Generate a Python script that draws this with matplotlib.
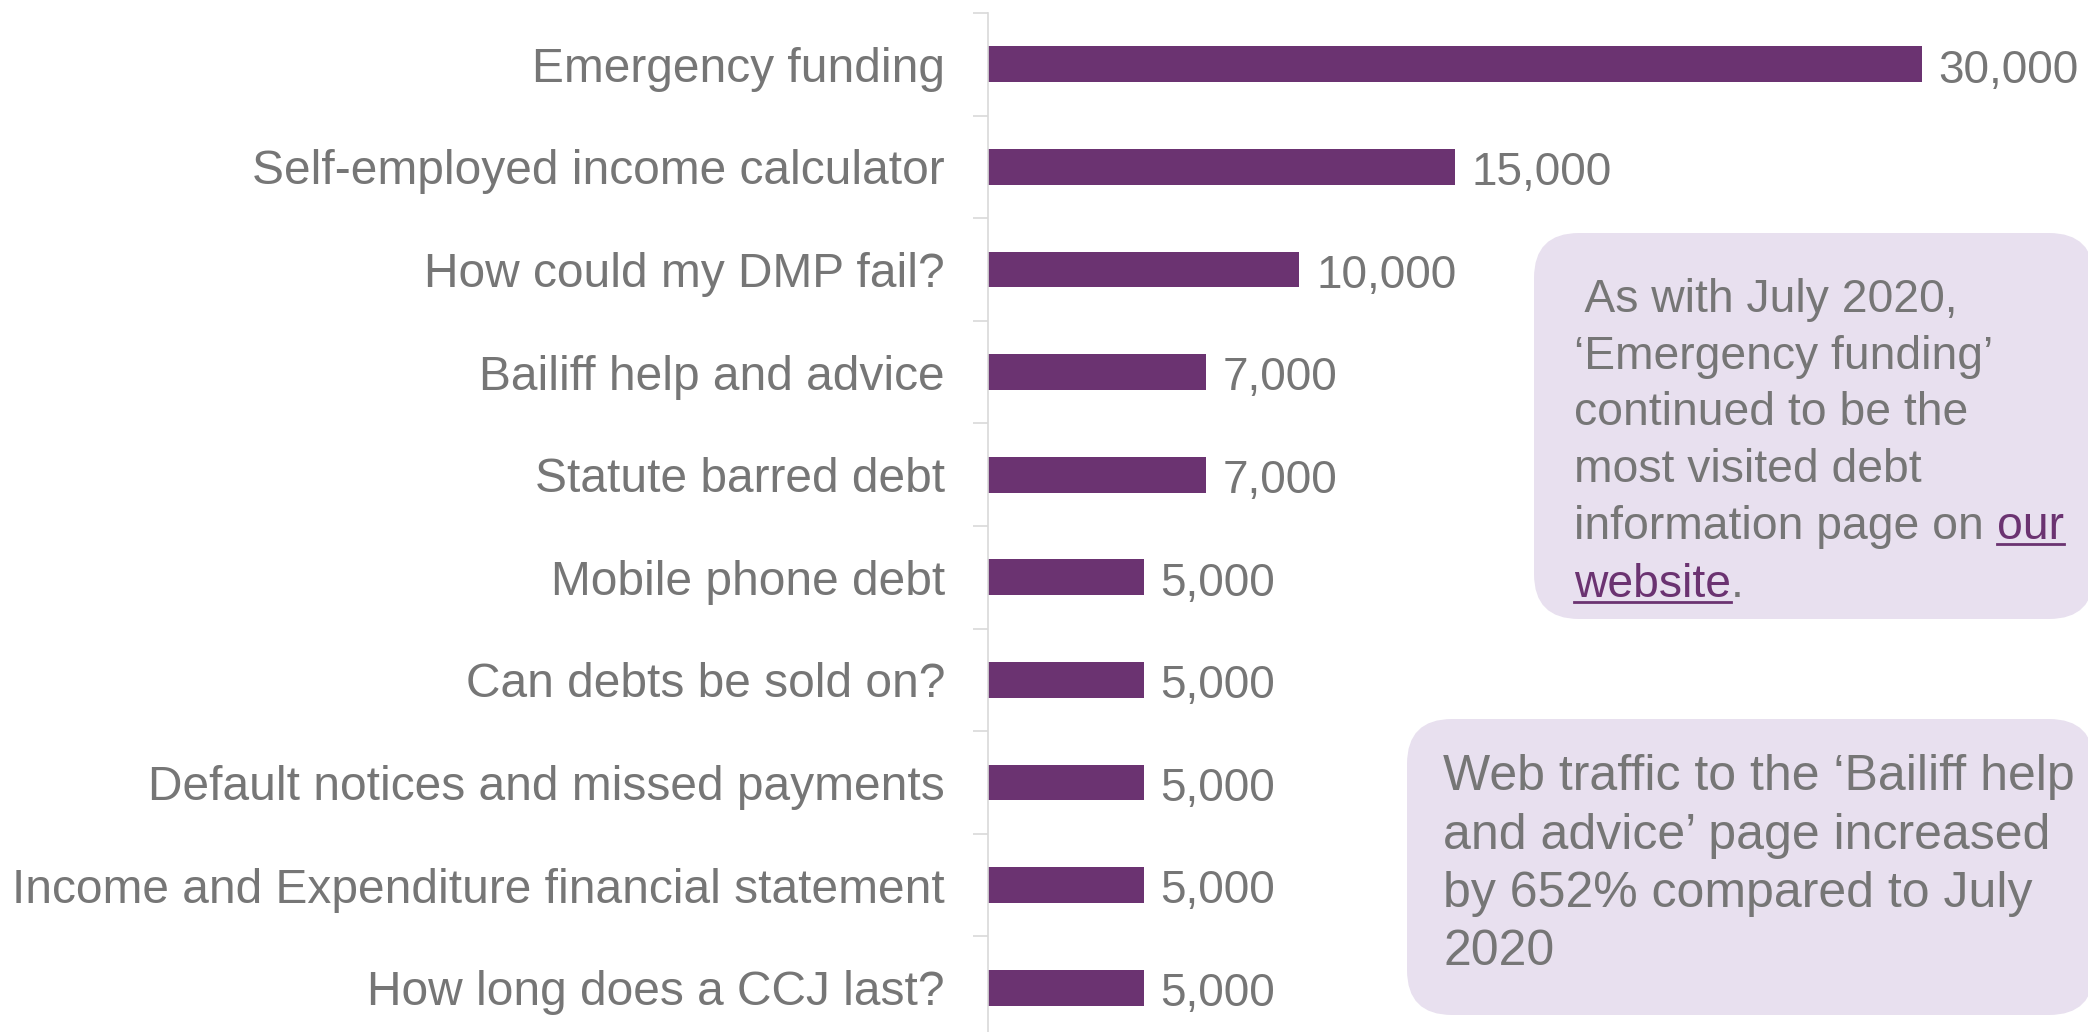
import matplotlib
matplotlib.use("Agg")
import matplotlib.pyplot as plt
from matplotlib.patches import FancyBboxPatch
import numpy as np

plt.rcParams['font.family'] = ['Liberation Sans', 'DejaVu Sans']

# data
pages = ["Emergency funding",
         "Self-employed income calculator",
         "How could my DMP fail?",
         "Bailiff help and advice",
         "Statute barred debt",
         "Mobile phone debt",
         "Can debts be sold on?",
         "Default notices and missed payments",
         "Income and Expenditure financial statement",
         "How long does a CCJ last?"]
visits = [30000, 15000, 10000, 7000, 7000, 5000, 5000, 5000, 5000, 5000]

note1 = [" As with July 2020,",
         "\u2018Emergency funding\u2019",
         "continued to be the",
         "most visited debt"]
note1_tail = ("information page on", "our", "website", ".")
note2 = ["Web traffic to the \u2018Bailiff help",
         "and advice\u2019 page increased",
         "by 652% compared to July",
         "2020"]

bar_col = "#6B3371"
txt_col = "#767676"
grid_col = "#D9D9D9"
box_col = "#E8E0EF"

W, H = 2088, 1032
fig = plt.figure(figsize=(W/100, H/100), dpi=100)

# main bar chart, scaled so the axis sits where the original one does
ax = fig.add_axes([988/W, (H-1039)/H, 1100/W, 1026/H])
y = np.arange(len(pages))
ax.barh(y, visits, height=0.35, color=bar_col)
ax.set_ylim(len(pages)-0.5, -0.5)
ax.set_xlim(0, 35330)
ax.set_yticks(y)
ax.set_yticklabels(pages, fontsize=34.5, color=txt_col)
ax.set_yticks(np.arange(len(pages)+1)-0.5, minor=True)
ax.tick_params(axis='y', which='major', length=0, pad=31)
ax.tick_params(axis='y', which='minor', length=11, width=1.2, color=grid_col)
ax.xaxis.set_visible(False)
for s in ["top", "right", "bottom"]:
    ax.spines[s].set_visible(False)
ax.spines["left"].set_color(grid_col)
ax.spines["left"].set_linewidth(1.2)
ax.set_facecolor("none")

for yi, v in zip(y, visits):
    ax.annotate(f"{v:,}", (v, yi), xytext=(12, -4.5), textcoords="offset points",
                va="center", ha="left", fontsize=33, color=txt_col,
                annotation_clip=False)

# overlay in pixel coordinates for the note boxes
ov = fig.add_axes([0, 0, 1, 1])
ov.set_xlim(0, W)
ov.set_ylim(H, 0)
ov.axis("off")
ov.patch.set_alpha(0)

ov.add_patch(FancyBboxPatch((1534, 233), 560, 386,
                            boxstyle="round,pad=0,rounding_size=45",
                            fc=box_col, ec="none"))
ov.add_patch(FancyBboxPatch((1407, 719), 687, 296,
                            boxstyle="round,pad=0,rounding_size=45",
                            fc=box_col, ec="none"))

# note 1
fs1 = 33.3
base1 = [312, 369, 425, 482]
for t, b in zip(note1, base1):
    ov.text(1574, b, t, fontsize=fs1, color=txt_col, va="baseline", ha="left")

fig.canvas.draw()
r = fig.canvas.get_renderer()

def width_of(s, fs):
    t = ov.text(0, 0, s, fontsize=fs)
    w = t.get_window_extent(r).width
    t.remove()
    return w

sp = width_of("a a", fs1) - width_of("aa", fs1)

b5, b6 = 539, 597
t = ov.text(1574, b5, note1_tail[0], fontsize=fs1, color=txt_col, va="baseline")
x_our = 1574 + t.get_window_extent(r).width + sp
t = ov.text(x_our, b5, note1_tail[1], fontsize=fs1, color=bar_col, va="baseline")
w_our = t.get_window_extent(r).width
ov.plot([x_our, x_our+w_our], [b5+5, b5+5], color=bar_col, lw=2)
t = ov.text(1574, b6, note1_tail[2], fontsize=fs1, color=bar_col, va="baseline")
w_web = t.get_window_extent(r).width
ov.plot([1574, 1574+w_web], [b6+5, b6+5], color=bar_col, lw=2)
ov.text(1574+w_web, b6, note1_tail[3], fontsize=fs1, color=txt_col, va="baseline")

# note 2
base2 = [790, 849, 907, 965]
for t, b in zip(note2, base2):
    ov.text(1443, b, t, fontsize=36, color=txt_col, va="baseline", ha="left")

fig.savefig("out.png", dpi=100)
